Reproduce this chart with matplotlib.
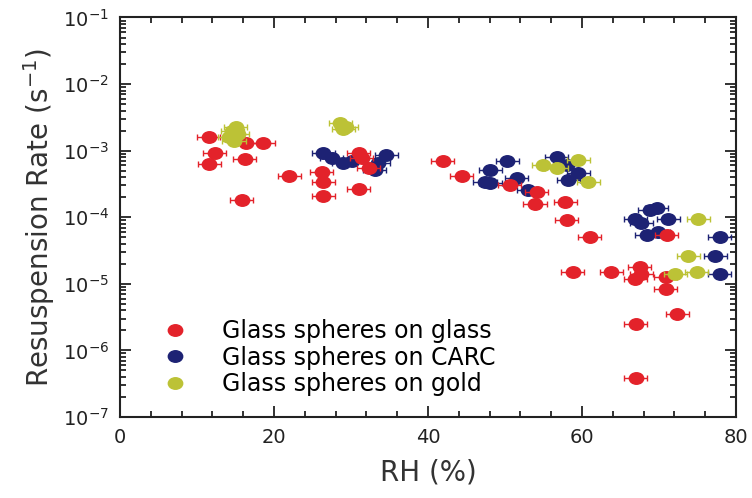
import numpy as np
import matplotlib
matplotlib.use('Agg')
import matplotlib.pyplot as plt
from matplotlib.lines import Line2D
from matplotlib.markers import MarkerStyle
from matplotlib.transforms import Affine2D
from matplotlib.ticker import MultipleLocator, LogLocator, NullFormatter

plt.rcParams['font.family'] = ['DejaVu Sans']

# RH (%) and resuspension rate (1/s) for each substrate
rh_glass = [11.5, 12.3, 11.6, 16.4, 18.6, 16.2, 15.8, 22.0, 31.0, 31.4, 32.3, 26.2,
            26.4, 26.4, 31.0, 41.9, 44.4, 50.6, 54.1, 53.9, 57.8, 58.0, 61.0, 71.0,
            58.8, 63.8, 67.5, 66.9, 67.7, 70.9, 70.9, 72.4, 67.0, 67.0]
rate_glass = [1.6e-3, 9.3e-4, 6.3e-4, 1.3e-3, 1.3e-3, 7.4e-4, 1.8e-4, 4.1e-4, 9.1e-4,
              7.7e-4, 5.5e-4, 4.8e-4, 3.4e-4, 2.1e-4, 2.7e-4, 6.9e-4, 4.1e-4, 3.0e-4,
              2.4e-4, 1.6e-4, 1.7e-4, 9.1e-5, 5.1e-5, 5.4e-5, 1.5e-5, 1.5e-5, 1.8e-5,
              1.2e-5, 1.4e-5, 1.25e-5, 8.3e-6, 3.5e-6, 2.5e-6, 3.9e-7]

rh_carc = [26.4, 27.5, 29.0, 30.1, 34.6, 33.5, 33.1, 48.1, 50.3, 48.1, 47.4, 51.5,
           53.0, 56.7, 58.0, 59.5, 58.2, 66.9, 67.7, 68.8, 69.7, 71.2, 68.4, 69.9,
           77.9, 77.3, 77.9]
rate_carc = [9.1e-4, 7.7e-4, 6.5e-4, 6.9e-4, 8.7e-4, 6.5e-4, 5.1e-4, 5.1e-4, 6.9e-4,
             3.3e-4, 3.4e-4, 3.9e-4, 2.6e-4, 8.1e-4, 6.1e-4, 4.6e-4, 3.6e-4, 9.5e-5,
             8.1e-5, 1.29e-4, 1.37e-4, 9.5e-5, 5.4e-5, 6.0e-5, 5.1e-5, 2.6e-5, 1.4e-5]

rh_gold = [14.2, 14.6, 15.0, 15.3, 14.8, 28.6, 29.4, 29.0, 55.0, 56.7, 59.5, 60.8,
           75.1, 73.8, 74.9, 72.1]
rate_gold = [1.6e-3, 2.0e-3, 2.3e-3, 1.8e-3, 1.4e-3, 2.6e-3, 2.3e-3, 2.1e-3, 6.1e-4,
             5.5e-4, 7.3e-4, 3.4e-4, 9.5e-5, 2.6e-5, 1.5e-5, 1.4e-5]

rh_err = 1.5

labels = ['Glass spheres on glass', 'Glass spheres on CARC', 'Glass spheres on gold']
colors = ['#e3222a', '#1d2274', '#bcc236']

# slightly flattened round marker
dot = MarkerStyle('o', transform=Affine2D().scale(1.15, 0.92))

fig = plt.figure(figsize=(7.52, 4.98), dpi=100)
ax = fig.add_axes([0.1596, 0.1627, 0.8191, 0.8022])

series = [(rh_carc, rate_carc, colors[1], 3),
          (rh_glass, rate_glass, colors[0], 4),
          (rh_gold, rate_gold, colors[2], 5)]
for x, y, c, z in series:
    ax.errorbar(x, y, xerr=rh_err, fmt='none', ecolor=c, elinewidth=1,
                capsize=2.5, capthick=1, zorder=z)
    ax.plot(x, y, ls='none', marker=dot, ms=9, color=c, mec=c, zorder=z + 0.5)

ax.set_yscale('log')
ax.set_xlim(0, 80)
ax.set_ylim(1e-7, 1e-1)
ax.xaxis.set_major_locator(MultipleLocator(20))
ax.xaxis.set_minor_locator(MultipleLocator(4))
ax.yaxis.set_major_locator(LogLocator(base=10, numticks=10))
ax.yaxis.set_minor_locator(LogLocator(base=10, subs=np.arange(2, 10), numticks=20))
ax.yaxis.set_minor_formatter(NullFormatter())

ax.tick_params(which='both', direction='in', top=True, right=True, width=1.3,
               labelsize=14, colors='#222222')
ax.tick_params(which='major', length=8, pad=8)
ax.tick_params(which='minor', length=4)
for s in ax.spines.values():
    s.set_linewidth(1.5)
    s.set_color('#222222')

ax.set_xlabel('RH (%)', fontsize=20, color='#333333', labelpad=8)
ax.set_ylabel('Resuspension Rate (s$^{-1}$)', fontsize=20, color='#333333', labelpad=4)

handles = [Line2D([], [], ls='none', marker=dot, ms=9, color=c) for c in colors]
ax.legend(handles, labels, loc='upper left', bbox_to_anchor=(0.055, 0.268),
          frameon=False, fontsize=17, handlelength=1.0, handletextpad=1.5,
          labelspacing=0.1, borderaxespad=0)

fig.savefig('out.png', dpi=100)
